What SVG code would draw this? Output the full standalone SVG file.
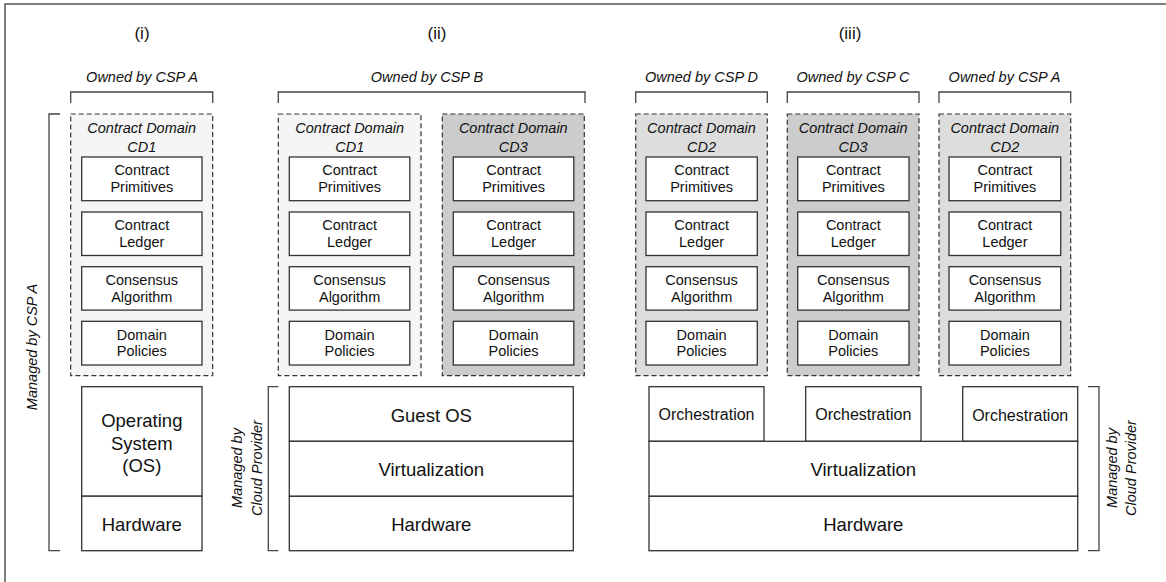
<svg xmlns="http://www.w3.org/2000/svg" width="1166" height="582" viewBox="0 0 1166 582">
<style>
text{font-family:"Liberation Sans",Arial,Helvetica,sans-serif;fill:#111;text-anchor:middle}
.hdr{font-size:17px}
.own{font-size:14.5px;font-style:italic}
.dt{font-size:14.5px;font-style:italic}
.bt{font-size:14.5px}
.big{font-size:18.5px}
.orc{font-size:16px}
.rot{font-size:14.5px;font-style:italic}
.box{fill:#fff;stroke:#333;stroke-width:1.3}
.dash{stroke:#333;stroke-width:1.2;stroke-dasharray:5 3}
.brk{fill:none;stroke:#444;stroke-width:1.3}
.l1{fill:#f5f5f5}
.l2{fill:#dddddd}
.l3{fill:#cccccc}
</style>
<rect x="5" y="4" width="1170" height="590" fill="#fff" stroke="#555" stroke-width="1.5"/>

<g id="headers">
<text class="hdr" x="142" y="39">(i)</text>
<text class="hdr" x="437" y="39">(ii)</text>
<text class="hdr" x="850" y="39">(iii)</text>
<text class="own" x="142" y="82">Owned by CSP A</text>
<text class="own" x="427" y="82">Owned by CSP B</text>
<text class="own" x="701.5" y="82">Owned by CSP D</text>
<text class="own" x="853" y="82">Owned by CSP C</text>
<text class="own" x="1004.5" y="82">Owned by CSP A</text>
</g>

<g id="brackets">
<path class="brk" d="M70.7,103V92H212.7V103"/>
<path class="brk" d="M278.3,103V92H585V103"/>
<path class="brk" d="M635.7,103V92H767.3V103"/>
<path class="brk" d="M787.3,103V92H919V103"/>
<path class="brk" d="M939,103V92H1070.7V103"/>
<path class="brk" d="M60,114H49V550.7H60"/>
<path class="brk" d="M278.3,386.7H268.3V550.7H278.3"/>
<path class="brk" d="M1088,386.7H1099V550.7H1088"/>
<text class="rot" transform="translate(37,347) rotate(-90)" font-size="14">Managed by CSP A</text>
<text class="rot" transform="translate(242,468) rotate(-90)"><tspan x="0" y="0">Managed by</tspan><tspan x="0" y="19.5">Cloud Provider</tspan></text>
<text class="rot" transform="translate(1117,468) rotate(-90)"><tspan x="0" y="0">Managed by</tspan><tspan x="0" y="19">Cloud Provider</tspan></text>
</g>

<g id="domain-i-cd1">
<rect class="dash l1" x="70.7" y="114" width="142" height="261.7"/>
<text class="dt" x="141.7" y="133">Contract Domain</text>
<text class="dt" x="141.7" y="152">CD1</text>
<rect class="box" x="81.7" y="157" width="120.3" height="43.7"/>
<text class="bt" x="141.8" y="175.2">Contract</text><text class="bt" x="141.8" y="192">Primitives</text>
<rect class="box" x="81.7" y="212" width="120.3" height="43.5"/>
<text class="bt" x="141.8" y="230.2">Contract</text><text class="bt" x="141.8" y="247">Ledger</text>
<rect class="box" x="81.7" y="266.7" width="120.3" height="43.4"/>
<text class="bt" x="141.8" y="284.9">Consensus</text><text class="bt" x="141.8" y="301.7">Algorithm</text>
<rect class="box" x="81.7" y="321.3" width="120.3" height="43.7"/>
<text class="bt" x="141.8" y="339.5">Domain</text><text class="bt" x="141.8" y="356.3">Policies</text>
</g>

<g id="domain-ii-cd1">
<rect class="dash l1" x="278.3" y="114" width="142.7" height="261.7"/>
<text class="dt" x="349.7" y="133">Contract Domain</text>
<text class="dt" x="349.7" y="152">CD1</text>
<rect class="box" x="289.3" y="157" width="120.5" height="43.7"/>
<text class="bt" x="349.6" y="175.2">Contract</text><text class="bt" x="349.6" y="192">Primitives</text>
<rect class="box" x="289.3" y="212" width="120.5" height="43.5"/>
<text class="bt" x="349.6" y="230.2">Contract</text><text class="bt" x="349.6" y="247">Ledger</text>
<rect class="box" x="289.3" y="266.7" width="120.5" height="43.4"/>
<text class="bt" x="349.6" y="284.9">Consensus</text><text class="bt" x="349.6" y="301.7">Algorithm</text>
<rect class="box" x="289.3" y="321.3" width="120.5" height="43.7"/>
<text class="bt" x="349.6" y="339.5">Domain</text><text class="bt" x="349.6" y="356.3">Policies</text>
</g>

<g id="domain-ii-cd3">
<rect class="dash l3" x="442.3" y="114" width="142" height="261.7"/>
<text class="dt" x="513.3" y="133">Contract Domain</text>
<text class="dt" x="513.3" y="152">CD3</text>
<rect class="box" x="453.3" y="157" width="120.5" height="43.7"/>
<text class="bt" x="513.6" y="175.2">Contract</text><text class="bt" x="513.6" y="192">Primitives</text>
<rect class="box" x="453.3" y="212" width="120.5" height="43.5"/>
<text class="bt" x="513.6" y="230.2">Contract</text><text class="bt" x="513.6" y="247">Ledger</text>
<rect class="box" x="453.3" y="266.7" width="120.5" height="43.4"/>
<text class="bt" x="513.6" y="284.9">Consensus</text><text class="bt" x="513.6" y="301.7">Algorithm</text>
<rect class="box" x="453.3" y="321.3" width="120.5" height="43.7"/>
<text class="bt" x="513.6" y="339.5">Domain</text><text class="bt" x="513.6" y="356.3">Policies</text>
</g>

<g id="domain-iii-cd2-d">
<rect class="dash l2" x="635.7" y="114" width="131.6" height="261.7"/>
<text class="dt" x="701.5" y="133">Contract Domain</text>
<text class="dt" x="701.5" y="152">CD2</text>
<rect class="box" x="646" y="157" width="111.3" height="43.7"/>
<text class="bt" x="701.6" y="175.2">Contract</text><text class="bt" x="701.6" y="192">Primitives</text>
<rect class="box" x="646" y="212" width="111.3" height="43.5"/>
<text class="bt" x="701.6" y="230.2">Contract</text><text class="bt" x="701.6" y="247">Ledger</text>
<rect class="box" x="646" y="266.7" width="111.3" height="43.4"/>
<text class="bt" x="701.6" y="284.9">Consensus</text><text class="bt" x="701.6" y="301.7">Algorithm</text>
<rect class="box" x="646" y="321.3" width="111.3" height="43.7"/>
<text class="bt" x="701.6" y="339.5">Domain</text><text class="bt" x="701.6" y="356.3">Policies</text>
</g>

<g id="domain-iii-cd3-c">
<rect class="dash l3" x="787.3" y="114" width="131.7" height="261.7"/>
<text class="dt" x="853.1" y="133">Contract Domain</text>
<text class="dt" x="853.1" y="152">CD3</text>
<rect class="box" x="797.7" y="157" width="111.3" height="43.7"/>
<text class="bt" x="853.3" y="175.2">Contract</text><text class="bt" x="853.3" y="192">Primitives</text>
<rect class="box" x="797.7" y="212" width="111.3" height="43.5"/>
<text class="bt" x="853.3" y="230.2">Contract</text><text class="bt" x="853.3" y="247">Ledger</text>
<rect class="box" x="797.7" y="266.7" width="111.3" height="43.4"/>
<text class="bt" x="853.3" y="284.9">Consensus</text><text class="bt" x="853.3" y="301.7">Algorithm</text>
<rect class="box" x="797.7" y="321.3" width="111.3" height="43.7"/>
<text class="bt" x="853.3" y="339.5">Domain</text><text class="bt" x="853.3" y="356.3">Policies</text>
</g>

<g id="domain-iii-cd2-a">
<rect class="dash l2" x="939" y="114" width="131.7" height="261.7"/>
<text class="dt" x="1004.8" y="133">Contract Domain</text>
<text class="dt" x="1004.8" y="152">CD2</text>
<rect class="box" x="949" y="157" width="111.7" height="43.7"/>
<text class="bt" x="1004.9" y="175.2">Contract</text><text class="bt" x="1004.9" y="192">Primitives</text>
<rect class="box" x="949" y="212" width="111.7" height="43.5"/>
<text class="bt" x="1004.9" y="230.2">Contract</text><text class="bt" x="1004.9" y="247">Ledger</text>
<rect class="box" x="949" y="266.7" width="111.7" height="43.4"/>
<text class="bt" x="1004.9" y="284.9">Consensus</text><text class="bt" x="1004.9" y="301.7">Algorithm</text>
<rect class="box" x="949" y="321.3" width="111.7" height="43.7"/>
<text class="bt" x="1004.9" y="339.5">Domain</text><text class="bt" x="1004.9" y="356.3">Policies</text>
</g>

<g id="stack-i">
<rect class="box" x="81.7" y="386.7" width="120.3" height="109.5"/>
<text class="big" font-size="19" x="141.8" y="427">Operating</text>
<text class="big" font-size="19" x="141.8" y="449.5">System</text>
<text class="big" font-size="19" x="141.8" y="472">(OS)</text>
<rect class="box" x="81.7" y="496.2" width="120.3" height="54.5"/>
<text class="big" x="141.8" y="530.5">Hardware</text>
</g>

<g id="stack-ii">
<rect class="box" x="289.3" y="386.7" width="284" height="54.6"/>
<text class="big" x="431.3" y="421.6">Guest OS</text>
<rect class="box" x="289.3" y="441.3" width="284" height="55"/>
<text class="big" x="431.3" y="475.5">Virtualization</text>
<rect class="box" x="289.3" y="496.3" width="284" height="54.4"/>
<text class="big" x="431.3" y="530.5">Hardware</text>
</g>

<g id="stack-iii">
<rect class="box" x="649" y="386.7" width="115" height="54.6"/>
<text class="orc" x="706.5" y="420">Orchestration</text>
<rect class="box" x="805.7" y="386.7" width="115.3" height="54.6"/>
<text class="orc" x="863.3" y="420">Orchestration</text>
<rect class="box" x="962.7" y="386.7" width="115" height="54.6"/>
<text class="orc" x="1020.2" y="420.5">Orchestration</text>
<rect class="box" x="649" y="441.3" width="428.7" height="55"/>
<text class="big" x="863.3" y="475.5">Virtualization</text>
<rect class="box" x="649" y="496.3" width="428.7" height="54.4"/>
<text class="big" x="863.3" y="530.5">Hardware</text>
</g>
</svg>
